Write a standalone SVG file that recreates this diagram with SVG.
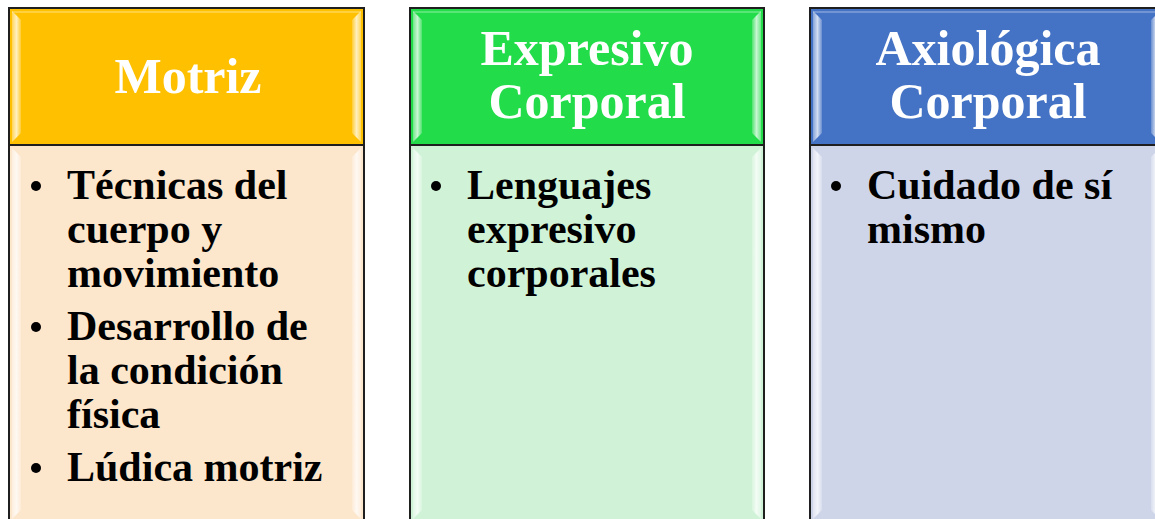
<svg xmlns="http://www.w3.org/2000/svg" width="1155" height="519" viewBox="0 0 1155 519">
<style>
.hd{font-family:"Liberation Serif","Times New Roman",serif;font-weight:bold;font-size:50px;fill:#ffffff;text-anchor:middle}
.bt{font-family:"Liberation Serif","Times New Roman",serif;font-weight:bold;font-size:42px;fill:#000000}
.frame{fill:none;stroke:#1f1f1f;stroke-width:2}
.bev{fill:url(#bevL)}
.bevr{fill:url(#bevR)}
</style>
<defs>
<linearGradient id="bevL" x1="0" y1="0" x2="1" y2="0">
<stop offset="0" stop-color="#ffffff" stop-opacity="0.35"/>
<stop offset="0.5" stop-color="#ffffff" stop-opacity="0.75"/>
<stop offset="1" stop-color="#ffffff" stop-opacity="0.2"/>
</linearGradient>
<linearGradient id="bevR" x1="0" y1="0" x2="1" y2="0">
<stop offset="0" stop-color="#ffffff" stop-opacity="0.2"/>
<stop offset="0.5" stop-color="#ffffff" stop-opacity="0.75"/>
<stop offset="1" stop-color="#ffffff" stop-opacity="0.35"/>
</linearGradient>
</defs>
<rect width="1155" height="519" fill="#ffffff"/>

<g id="motriz">
<rect x="9" y="8" width="355" height="137" fill="#ffc000"/>
<polygon class="bev" points="12,11 21,20 21,133 12,142"/>
<polygon class="bevr" points="361,11 352,20 352,133 361,142"/>
<rect x="12" y="11" width="349" height="2" fill="#ffffff" opacity="0.25"/>
<rect x="9" y="145" width="355" height="380" fill="#fce6cc"/>
<polygon class="bev" points="12,148 21,157 21,510 12,519"/>
<polygon class="bevr" points="361,148 352,157 352,510 361,519"/>
<rect class="frame" x="9" y="8" width="355" height="520"/>
<line x1="9" y1="145" x2="364" y2="145" stroke="#1f1f1f" stroke-width="2"/>
<text class="hd" x="188" y="93">Motriz</text>
<text class="bt" x="67" y="199">Técnicas del</text>
<text class="bt" x="67" y="243">cuerpo y</text>
<text class="bt" x="67" y="287">movimiento</text>
<text class="bt" x="67" y="340">Desarrollo de</text>
<text class="bt" x="67" y="384">la condición</text>
<text class="bt" x="67" y="428">física</text>
<text class="bt" x="67" y="481">Lúdica motriz</text>
<circle cx="36" cy="186" r="5" fill="#000"/>
<circle cx="36" cy="327" r="5" fill="#000"/>
<circle cx="36" cy="468" r="5" fill="#000"/>
</g>

<g id="expresivo">
<rect x="410" y="8" width="354" height="137" fill="#23dc4a"/>
<polygon class="bev" points="413,11 422,20 422,133 413,142"/>
<polygon class="bevr" points="761,11 752,20 752,133 761,142"/>
<rect x="413" y="11" width="348" height="2" fill="#ffffff" opacity="0.25"/>
<rect x="410" y="145" width="354" height="380" fill="#d0f3d7"/>
<polygon class="bev" points="413,148 422,157 422,510 413,519"/>
<polygon class="bevr" points="761,148 752,157 752,510 761,519"/>
<rect class="frame" x="410" y="8" width="354" height="520"/>
<line x1="410" y1="145" x2="764" y2="145" stroke="#1f1f1f" stroke-width="2"/>
<text class="hd" x="587" y="65">Expresivo</text>
<text class="hd" x="587" y="118">Corporal</text>
<text class="bt" x="467" y="199">Lenguajes</text>
<text class="bt" x="467" y="243">expresivo</text>
<text class="bt" x="467" y="287">corporales</text>
<circle cx="436" cy="186" r="5" fill="#000"/>
</g>

<g id="axiologica">
<rect x="810" y="8" width="356" height="137" fill="#4472c4"/>
<polygon class="bev" points="813,11 822,20 822,133 813,142"/>
<polygon class="bevr" points="1160,11 1151,20 1151,133 1160,142"/>
<rect x="813" y="11" width="350" height="2" fill="#ffffff" opacity="0.25"/>
<rect x="810" y="145" width="356" height="380" fill="#cfd5e9"/>
<polygon class="bev" points="813,148 822,157 822,510 813,519"/>
<polygon class="bevr" points="1160,148 1151,157 1151,510 1160,519"/>
<rect class="frame" x="810" y="8" width="356" height="520"/>
<line x1="810" y1="145" x2="1166" y2="145" stroke="#1f1f1f" stroke-width="2"/>
<text class="hd" x="988" y="65">Axiológica</text>
<text class="hd" x="988" y="118">Corporal</text>
<text class="bt" x="867" y="199">Cuidado de sí</text>
<text class="bt" x="867" y="243">mismo</text>
<circle cx="836" cy="186" r="5" fill="#000"/>
</g>

<g id="connectors"/>
</svg>
